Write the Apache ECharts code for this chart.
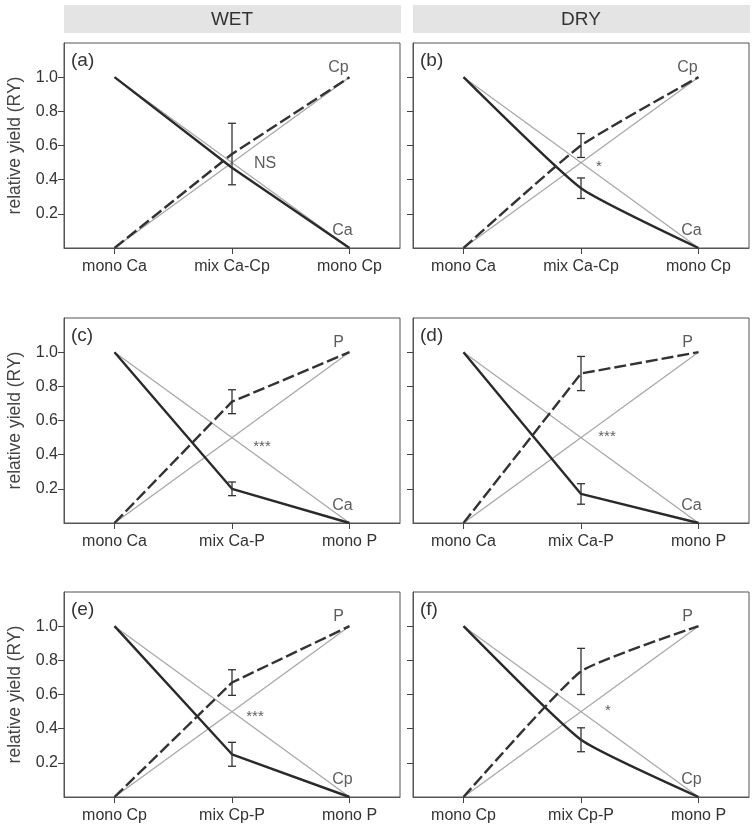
<!DOCTYPE html>
<html>
<head>
<meta charset="utf-8">
<script src="https://cdn.jsdelivr.net/npm/echarts@6/dist/echarts.min.js"></script>
<style>html,body{margin:0;padding:0;background:#fff;}#chart{width:755px;height:830px;}</style>
</head>
<body>
<div id="chart"></div>
<script>
// ---- data ----
const columnTitles = ['WET', 'DRY'];
const panelNames = ['(a)', '(b)', '(c)', '(d)', '(e)', '(f)'];
const rowCategories = [
  ['mono Ca', 'mix Ca-Cp', 'mono Cp'],
  ['mono Ca', 'mix Ca-P', 'mono P'],
  ['mono Cp', 'mix Cp-P', 'mono P']
];
const yTickValues = [0.2, 0.4, 0.6, 0.8, 1.0];
const solidSpecies = ['Ca', 'Ca', 'Ca', 'Ca', 'Cp', 'Cp'];
const dashedSpecies = ['Cp', 'Cp', 'P', 'P', 'P', 'P'];
const solidMix = [0.47, 0.35, 0.20, 0.17, 0.25, 0.335];
const solidErr = [null, 0.06, 0.04, 0.06, 0.07, 0.07];
const dashedMix = [0.55, 0.60, 0.71, 0.875, 0.67, 0.735];
const dashedErr = [0.18, 0.07, 0.07, 0.10, 0.075, 0.135];
const significance = ['NS', '*', '***', '***', '***', '*'];
const expectedMix = 0.5;

// ---- layout ----
const FONT = 'Liberation Sans, Arial, Helvetica, sans-serif';
const colLeft = [64, 413];
const rowTop = [43, 318, 592];
const gw = 336, gh = 205;
const smoothness = [0, 0.15, 0, 0, 0, 0.15];
const sigOffsets = [[33, 1], [18, 4], [30, 9], [26, -1], [23, 5], [27, -1]];

const chart = echarts.init(document.getElementById('chart'), null, {renderer: 'canvas'});
const option = {
  animation: false,
  backgroundColor: '#fff',
  textStyle: {fontFamily: FONT},
  grid: [], xAxis: [], yAxis: [], series: [], graphic: []
};

columnTitles.forEach((t, c) => {
  option.graphic.push({
    type: 'rect', left: colLeft[c], top: 5, shape: {width: gw + 1, height: 28},
    style: {fill: '#e4e4e4'}, z: 0
  });
  option.graphic.push({
    type: 'text', x: colLeft[c] + gw / 2, y: 20,
    style: {text: t, fill: '#333', font: '19px ' + FONT, textAlign: 'center', textVerticalAlign: 'middle'}
  });
});

panelNames.forEach((name, i) => {
  const row = Math.floor(i / 2), col = i % 2;
  const cats = rowCategories[row];
  option.grid.push({
    left: colLeft[col], top: rowTop[row], width: gw, height: gh,
    show: true, borderColor: '#555', borderWidth: 1
  });
  option.xAxis.push({
    type: 'value', gridIndex: i, min: -0.43, max: 2.43, position: 'bottom',
    axisLine: {show: true, onZero: false, lineStyle: {color: '#555', width: 1}},
    splitLine: {show: false},
    axisTick: {show: true, length: 6, customValues: [0, 1, 2], lineStyle: {color: '#444'}},
    axisLabel: {customValues: [0, 1, 2], formatter: v => cats[Math.round(v)] || '',
      margin: 11, fontSize: 16, color: '#333', fontFamily: FONT}
  });
  option.yAxis.push({
    type: 'value', gridIndex: i, min: 0, max: 1.2, position: 'left',
    axisLine: {show: true, onZero: false, lineStyle: {color: '#555', width: 1}},
    splitLine: {show: false},
    axisTick: {show: true, length: 6, customValues: yTickValues, lineStyle: {color: '#444'}},
    axisLabel: {show: col === 0, customValues: yTickValues, formatter: v => v.toFixed(1),
      margin: 6, fontSize: 16, color: '#333', fontFamily: FONT},
    name: col === 0 ? 'relative yield (RY)' : '',
    nameLocation: 'middle', nameGap: 40, nameRotate: 90,
    nameTextStyle: {fontSize: 17.5, color: '#444', fontFamily: FONT}
  });
  option.graphic.push({
    type: 'text', x: colLeft[col] + 7, y: rowTop[row] + 18,
    style: {text: name, fill: '#333', font: '19px ' + FONT, textVerticalAlign: 'middle'}
  });

  const base = {xAxisIndex: i, yAxisIndex: i, symbol: 'none', silent: true};
  // expected (null hypothesis) lines
  option.series.push(Object.assign({}, base, {
    type: 'line', data: [[0, 1], [2, 0]], lineStyle: {color: '#a8a8a8', width: 1.3}, z: 2
  }));
  option.series.push(Object.assign({}, base, {
    type: 'line', data: [[0, 0], [2, 1]], lineStyle: {color: '#a8a8a8', width: 1.3}, z: 2
  }));
  // observed lines
  option.series.push(Object.assign({}, base, {
    type: 'line', smooth: smoothness[i], data: [[0, 1], [1, solidMix[i]], [2, 0]],
    lineStyle: {color: '#2a2a2a', width: 2.4}, z: 3
  }));
  option.series.push(Object.assign({}, base, {
    type: 'line', smooth: smoothness[i], data: [[0, 0], [1, dashedMix[i]], [2, 1]],
    lineStyle: {color: '#333', width: 2.4, type: [12, 4]}, z: 3
  }));
  // error bars
  const errData = [];
  if (solidErr[i] != null) errData.push([1, solidMix[i] - solidErr[i], solidMix[i] + solidErr[i]]);
  if (dashedErr[i] != null) errData.push([1, dashedMix[i] - dashedErr[i], dashedMix[i] + dashedErr[i]]);
  option.series.push({
    type: 'custom', xAxisIndex: i, yAxisIndex: i, silent: true, z: 4,
    encode: {x: 0, y: [1, 2]},
    data: errData,
    renderItem: (params, api) => {
      const p1 = api.coord([api.value(0), api.value(1)]);
      const p2 = api.coord([api.value(0), api.value(2)]);
      const w = 4;
      const st = {stroke: '#333', lineWidth: 1.3};
      return {type: 'group', children: [
        {type: 'line', shape: {x1: p1[0], y1: p1[1], x2: p2[0], y2: p2[1]}, style: st},
        {type: 'line', shape: {x1: p1[0] - w, y1: p1[1], x2: p1[0] + w, y2: p1[1]}, style: st},
        {type: 'line', shape: {x1: p2[0] - w, y1: p2[1], x2: p2[0] + w, y2: p2[1]}, style: st}
      ]};
    }
  });
  // text labels
  const lblStyle = {show: true, color: '#333', fontSize: 16, fontFamily: FONT, position: 'inside'};
  option.series.push({
    type: 'scatter', xAxisIndex: i, yAxisIndex: i, silent: true, z: 5,
    symbolSize: 1, itemStyle: {color: 'rgba(0,0,0,0)'},
    data: [
      {value: [2, 1], label: Object.assign({}, lblStyle, {formatter: dashedSpecies[i], offset: [-11, -10]})},
      {value: [2, 0], label: Object.assign({}, lblStyle, {formatter: solidSpecies[i], offset: [-7, -17]})},
      {value: [1, expectedMix], label: Object.assign({}, lblStyle, {formatter: significance[i],
        fontSize: significance[i] === 'NS' ? 16 : 15, offset: sigOffsets[i]})}
    ]
  });
});

chart.setOption(option);
</script>
</body>
</html>
